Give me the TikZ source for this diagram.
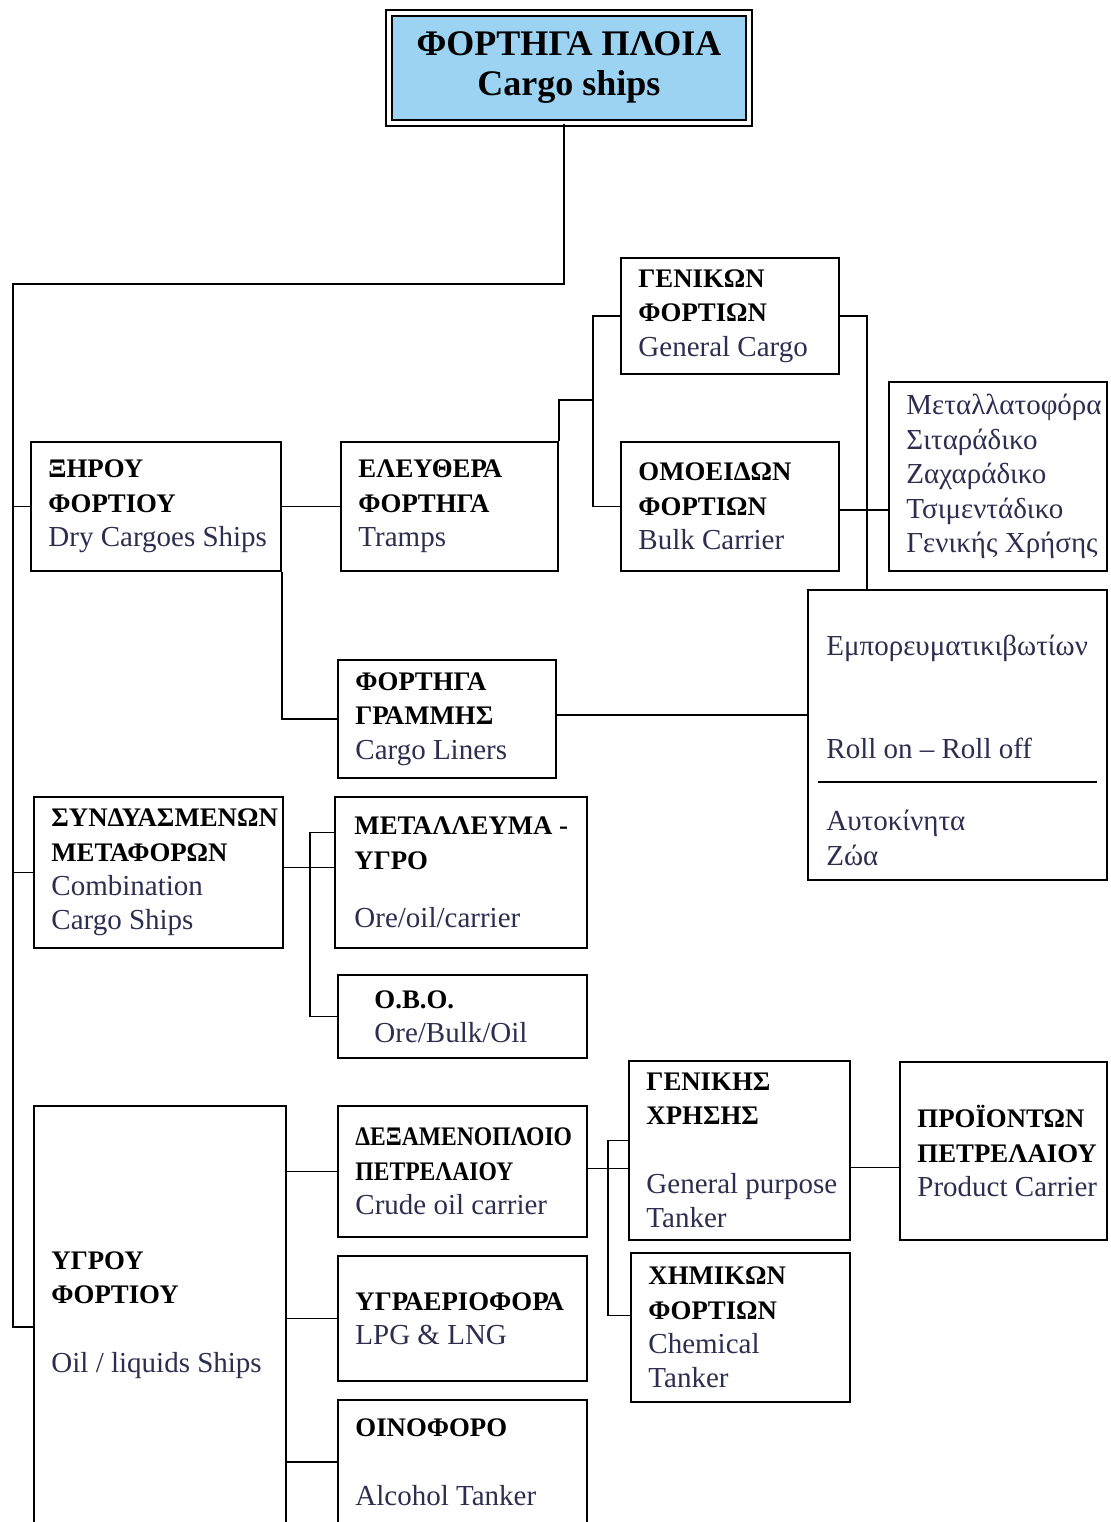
\documentclass[tikz,border=0pt]{standalone}
\usepackage{fontspec}
\setmainfont{Liberation Serif}
\usetikzlibrary{positioning}
\definecolor{rootblue}{RGB}{157,211,242}
\definecolor{engtext}{RGB}{45,45,80}
\newcommand{\grk}[1]{{\fontsize{13.4}{17.2}\selectfont\bfseries\color{black}#1}}
\newcommand{\narrow}[1]{\scalebox{0.88}[1]{\grk{#1}}}
\tikzset{
  shipbox/.style={draw, line width=0.95pt, inner sep=0pt},
  boxtext/.style={inner sep=0pt, align=left, text=engtext, font=\fontsize{14.5}{17.2}\selectfont},
  link/.style={line width=0.95pt}
}

\begin{document}
\begin{tikzpicture}[x=0.5pt, y=-0.5pt]
\useasboundingbox (0,0) rectangle (1110,1522);
\clip (0,0) rectangle (1110,1522);

% root
\node[shipbox, double, double distance=2pt, line width=0.8pt, fill=rootblue,
  minimum width=180pt, minimum height=55pt, align=center, text=black,
  font=\fontsize{18}{20}\selectfont\bfseries] (root) at (569,68) {ΦΟΡΤΗΓΑ ΠΛΟΙΑ\\Cargo ships};

% dry cargo ships
\node[shipbox, minimum width=125pt, minimum height=64.5pt] (dry) at (156,506.5) {};
\node[boxtext, right=9pt of dry.west] (dry-t) {\grk{ΞΗΡΟΥ}\\\grk{ΦΟΡΤΙΟΥ}\\Dry Cargoes Ships};
\node[shipbox, minimum width=108.5pt, minimum height=64.5pt] (tramp) at (449.5,506.5) {};
\node[boxtext, right=9pt of tramp.west] (tramp-t) {\grk{ΕΛΕΥΘΕΡΑ}\\\grk{ΦΟΡΤΗΓΑ}\\Tramps};
\node[shipbox, minimum width=109pt, minimum height=58pt] (gencargo) at (730,316) {};
\node[boxtext, right=9pt of gencargo.west] (gencargo-t) {\grk{ΓΕΝΙΚΩΝ}\\\grk{ΦΟΡΤΙΩΝ}\\General Cargo};
\node[shipbox, minimum width=109pt, minimum height=64.5pt] (bulk) at (730,506.5) {};
\node[boxtext, right=9pt of bulk.west] (bulk-t) {\grk{ΟΜΟΕΙΔΩΝ}\\\grk{ΦΟΡΤΙΩΝ}\\Bulk Carrier};
\node[shipbox, minimum width=109pt, minimum height=94.5pt] (bulktypes) at (998,476.5) {};
\node[boxtext, right=9pt of bulktypes.west] (bulktypes-t) {Μεταλλατοφόρα\\Σιταράδικο\\Ζαχαράδικο\\Τσιμεντάδικο\\Γενικής Χρήσης};
\node[shipbox, minimum width=109pt, minimum height=59pt] (liner) at (447,719) {};
\node[boxtext, right=9pt of liner.west] (liner-t) {\grk{ΦΟΡΤΗΓΑ}\\\grk{ΓΡΑΜΜΗΣ}\\Cargo Liners};

% liner types
\node[shipbox, minimum width=149.5pt, minimum height=145pt] (cont) at (957.5,735) {};
\node[boxtext, anchor=west] (cont-a) at (826,648) {Εμπορευματικιβωτίων};
\node[boxtext, anchor=west] (cont-b) at (826,748) {Roll on – Roll off};
\draw[link] (818,782) -- (1097,782);
\node[boxtext, anchor=west] (cont-c) at (826,838) {Αυτοκίνητα\\Ζώα};

% combination ships
\node[shipbox, minimum width=124.5pt, minimum height=75.5pt] (combo) at (158.5,872.5) {};
\node[boxtext, right=9pt of combo.west] (combo-t) {\grk{ΣΥΝΔΥΑΣΜΕΝΩΝ}\\\grk{ΜΕΤΑΦΟΡΩΝ}\\Combination\\Cargo Ships};
\node[shipbox, minimum width=126pt, minimum height=75.5pt] (oreoil) at (461,872.5) {};
\node[boxtext, right=10pt of oreoil.west] (oreoil-t) {\grk{ΜΕΤΑΛΛΕΥΜΑ -}\\\grk{ΥΓΡΟ}\\[12pt]Ore/oil/carrier};
\node[shipbox, minimum width=124.5pt, minimum height=41.5pt] (obo) at (462.5,1016.5) {};
\node[boxtext, right=18.5pt of obo.west] (obo-t) {\grk{O.B.O.}\\Ore/Bulk/Oil};

% liquid cargo ships
\node[shipbox, minimum width=126pt, minimum height=209pt] (liquid) at (160,1315) {};
\node[boxtext, right=9pt of liquid.west] (liquid-t) {\grk{ΥΓΡΟΥ}\\\grk{ΦΟΡΤΙΟΥ}\\[17.2pt]Oil / liquids Ships};
\node[shipbox, minimum width=124.5pt, minimum height=65.5pt] (crude) at (462.5,1171.5) {};
\node[boxtext, right=9pt of crude.west] (crude-t) {\narrow{ΔΕΞΑΜΕΝΟΠΛΟΙΟ}\\\narrow{ΠΕΤΡΕΛΑΙΟΥ}\\Crude oil carrier};
\node[shipbox, minimum width=124.5pt, minimum height=62.5pt] (lpg) at (462.5,1318.5) {};
\node[boxtext, right=9pt of lpg.west] (lpg-t) {\grk{ΥΓΡΑΕΡΙΟΦΟΡΑ}\\LPG \& LNG};
\node[shipbox, minimum width=124.5pt, minimum height=62pt] (alcohol) at (462.5,1462) {};
\node[boxtext, right=9pt of alcohol.west] (alcohol-t) {\grk{ΟΙΝΟΦΟΡΟ}\\[17.2pt]Alcohol Tanker};
\node[shipbox, minimum width=110.5pt, minimum height=89.5pt] (gptank) at (739.5,1150.5) {};
\node[boxtext, right=9pt of gptank.west] (gptank-t) {\grk{ΓΕΝΙΚΗΣ}\\\grk{ΧΡΗΣΗΣ}\\[17.2pt]General purpose\\Tanker};
\node[shipbox, minimum width=109.5pt, minimum height=74.5pt] (chem) at (740.5,1327.5) {};
\node[boxtext, right=9pt of chem.west] (chem-t) {\grk{ΧΗΜΙΚΩΝ}\\\grk{ΦΟΡΤΙΩΝ}\\Chemical\\Tanker};
\node[shipbox, minimum width=103.5pt, minimum height=89pt] (product) at (1003.5,1151) {};
\node[boxtext, right=9pt of product.west] (product-t) {\grk{ΠΡΟΪΟΝΤΩΝ}\\\grk{ΠΕΤΡΕΛΑΙΟΥ}\\Product Carrier};

% main trunk
\coordinate (trunk-top) at (13,284);
\draw[link] ([xshift=-2.5pt]root.south) |- (trunk-top) |- ([yshift=-6pt]liquid.west);
\draw[link] (trunk-top |- dry.west) -- (dry.west);
\draw[link] (trunk-top |- combo.west) -- (combo.west);

% dry cargo links
\draw[link] (dry.east) -- (tramp.west);
\coordinate (tramp-fork) at (593,400);
\draw[link] (tramp.north east) |- (tramp-fork);
\draw[link] (gencargo.west) -| (tramp-fork) |- (bulk.west);
\coordinate (gen-drop) at (867,590);
\draw[link] (gencargo.east) -| (gen-drop);
\draw[link] ([yshift=-1.75pt]bulk.east) -- ([yshift=-1.75pt]bulk.east -| bulktypes.west);
\draw[link] (dry.south east) |- (liner.west);
\draw[link] ([yshift=2pt]liner.east) -- ([yshift=2pt]liner.east -| cont.west);

% combination links
\draw[link] ([yshift=2.5pt]combo.east) -- ([yshift=2.5pt]combo.east -| oreoil.west);
\coordinate (combo-fork) at (310,867);
\draw[link] ([yshift=20pt]oreoil.west) -| (combo-fork) |- (obo.west);

% liquid links
\foreach \n in {crude, lpg, alcohol} {
  \draw[link] (\n.west) -- (\n.west -| liquid.east);
}
\draw[link] ([yshift=1.5pt]crude.east) -- ([yshift=1.5pt]crude.east -| gptank.west);
\coordinate (crude-fork) at (608,1168);
\draw[link] ([yshift=5pt]gptank.west) -| (crude-fork) |- ([yshift=6pt]chem.west);
\draw[link] ([yshift=-8.5pt]gptank.east) -- ([yshift=-8.5pt]gptank.east -| product.west);
\end{tikzpicture}
\end{document}
